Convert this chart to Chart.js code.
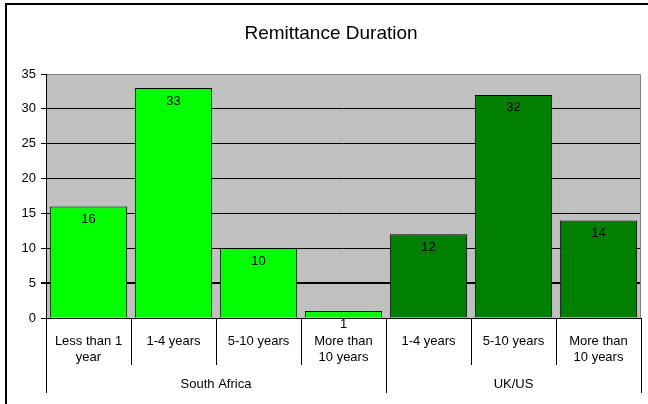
<!DOCTYPE html>
<html>
<head>
<meta charset="utf-8">
<script src="https://cdn.jsdelivr.net/npm/chart.js@4/dist/chart.umd.min.js"></script>
<style>
  html, body { margin: 0; padding: 0; background: #fff; }
  #wrap { width: 648px; height: 404px; }
</style>
</head>
<body>
<div id="wrap"><canvas id="grafico"></canvas></div>
<script>
const titleText = 'Remittance Duration';
const groups = ['South Africa', 'UK/US'];
const saLabels = [['Less than 1', 'year'], '1-4 years', '5-10 years', ['More than', '10 years']];
const ukLabels = ['1-4 years', '5-10 years', ['More than', '10 years']];
const saValues = [16, 33, 10, 1];
const ukValues = [12, 32, 14];
const yTicks = [0, 5, 10, 15, 20, 25, 30, 35];

const labels = saLabels.concat(ukLabels);
const values = saValues.concat(ukValues);
const colors = saValues.map(() => '#00ff00').concat(ukValues.map(() => '#008000'));
const groupSizes = [saValues.length, ukValues.length];

const FONT = '"Liberation Sans", Arial, sans-serif';

const frame = {
  id: 'frame',
  beforeDraw(chart) {
    const c = chart.ctx;
    c.save();
    c.fillStyle = '#fff';
    c.fillRect(0, 0, chart.width, chart.height);
    const a = chart.chartArea;
    c.fillStyle = '#c0c0c0';
    c.fillRect(a.left, a.top, a.right - a.left, a.bottom - a.top);
    c.restore();
  },
  afterDraw(chart) {
    const c = chart.ctx;
    const a = chart.chartArea;
    const x = chart.scales.x;
    c.save();
    // outer frame
    c.strokeStyle = '#000';
    c.lineWidth = 2;
    c.beginPath();
    c.moveTo(6, chart.height + 5);
    c.lineTo(6, 4);
    c.lineTo(chart.width + 5, 4);
    c.stroke();

    // title
    c.fillStyle = '#000';
    c.font = '19px ' + FONT;
    c.textAlign = 'center';
    c.textBaseline = 'middle';
    c.fillText(titleText, 331, 34);

    // plot border top/right
    c.lineWidth = 1;
    c.strokeStyle = '#808080';
    c.beginPath();
    c.moveTo(a.left, a.top + 0.5);
    c.lineTo(a.right - 0.5, a.top + 0.5);
    c.lineTo(a.right - 0.5, a.bottom);
    c.stroke();

    // axes
    c.strokeStyle = '#000';
    c.beginPath();
    c.moveTo(a.left + 0.5, a.top);
    c.lineTo(a.left + 0.5, a.bottom);
    c.moveTo(a.left, a.bottom + 0.5);
    c.lineTo(a.right, a.bottom + 0.5);
    c.stroke();

    // category dividers
    const half = (x.getPixelForValue(1) - x.getPixelForValue(0)) / 2;
    c.beginPath();
    for (let i = 0; i <= labels.length; i++) {
      const px = Math.round(x.getPixelForValue(i) - half) + 0.5;
      c.moveTo(px, a.bottom);
      c.lineTo(px, a.bottom + 47);
    }
    // group dividers and labels
    let start = 0;
    const bounds = [];
    groupSizes.forEach(n => {
      bounds.push([start, start + n]);
      start += n;
    });
    bounds.forEach(([s, e]) => {
      [s, e].forEach(i => {
        const px = Math.round(x.getPixelForValue(i) - half) + 0.5;
        c.moveTo(px, a.bottom);
        c.lineTo(px, a.bottom + 75);
      });
    });
    c.stroke();

    c.font = '13px ' + FONT;
    bounds.forEach(([s, e], gi) => {
      const x0 = x.getPixelForValue(s) - half;
      const x1 = x.getPixelForValue(e) - half;
      c.fillText(groups[gi], (x0 + x1) / 2, a.bottom + 66);
    });

    // value labels
    const meta = chart.getDatasetMeta(0);
    meta.data.forEach((bar, i) => {
      c.fillText(String(values[i]), bar.x, bar.y + 13);
    });
    c.restore();
  }
};

const ctx = document.getElementById('grafico').getContext('2d');

const chart = new Chart(ctx, {
  type: 'bar',
  data: {
    labels: labels,
    datasets: [{
      data: values,
      backgroundColor: colors,
      borderColor: '#000',
      borderWidth: 1,
      barPercentage: 0.91,
      categoryPercentage: 1
    }]
  },
  options: {
    animation: false,
    responsive: true,
    maintainAspectRatio: false,
    layout: { padding: { left: 0, right: 7, top: 74, bottom: 0 } },
    plugins: {
      legend: { display: false },
      tooltip: { enabled: false },
      title: { display: false }
    },
    scales: {
      x: {
        grid: { display: false, drawTicks: false },
        border: { display: false },
        ticks: {
          color: '#000',
          font: { family: FONT, size: 13, lineHeight: 1.25 },
          padding: 15,
          maxRotation: 0,
          autoSkip: false
        },
        afterFit(scale) { scale.height = 86; }
      },
      y: {
        min: 0,
        max: 35,
        afterBuildTicks(scale) { scale.ticks = yTicks.map(v => ({ value: v })); },
        grid: {
          color: c => c.tick && c.tick.value === 35 ? 'rgba(0,0,0,0)' : '#000',
          lineWidth: c => c.tick && c.tick.value === 5 ? 2 : 1,
          tickLength: 5,
          tickColor: '#000'
        },
        border: { display: false },
        ticks: {
          color: '#000',
          font: { family: FONT, size: 13 },
          padding: 5
        },
        afterFit(scale) { scale.width = 46; }
      }
    }
  },
  plugins: [frame]
});
</script>
</body>
</html>
